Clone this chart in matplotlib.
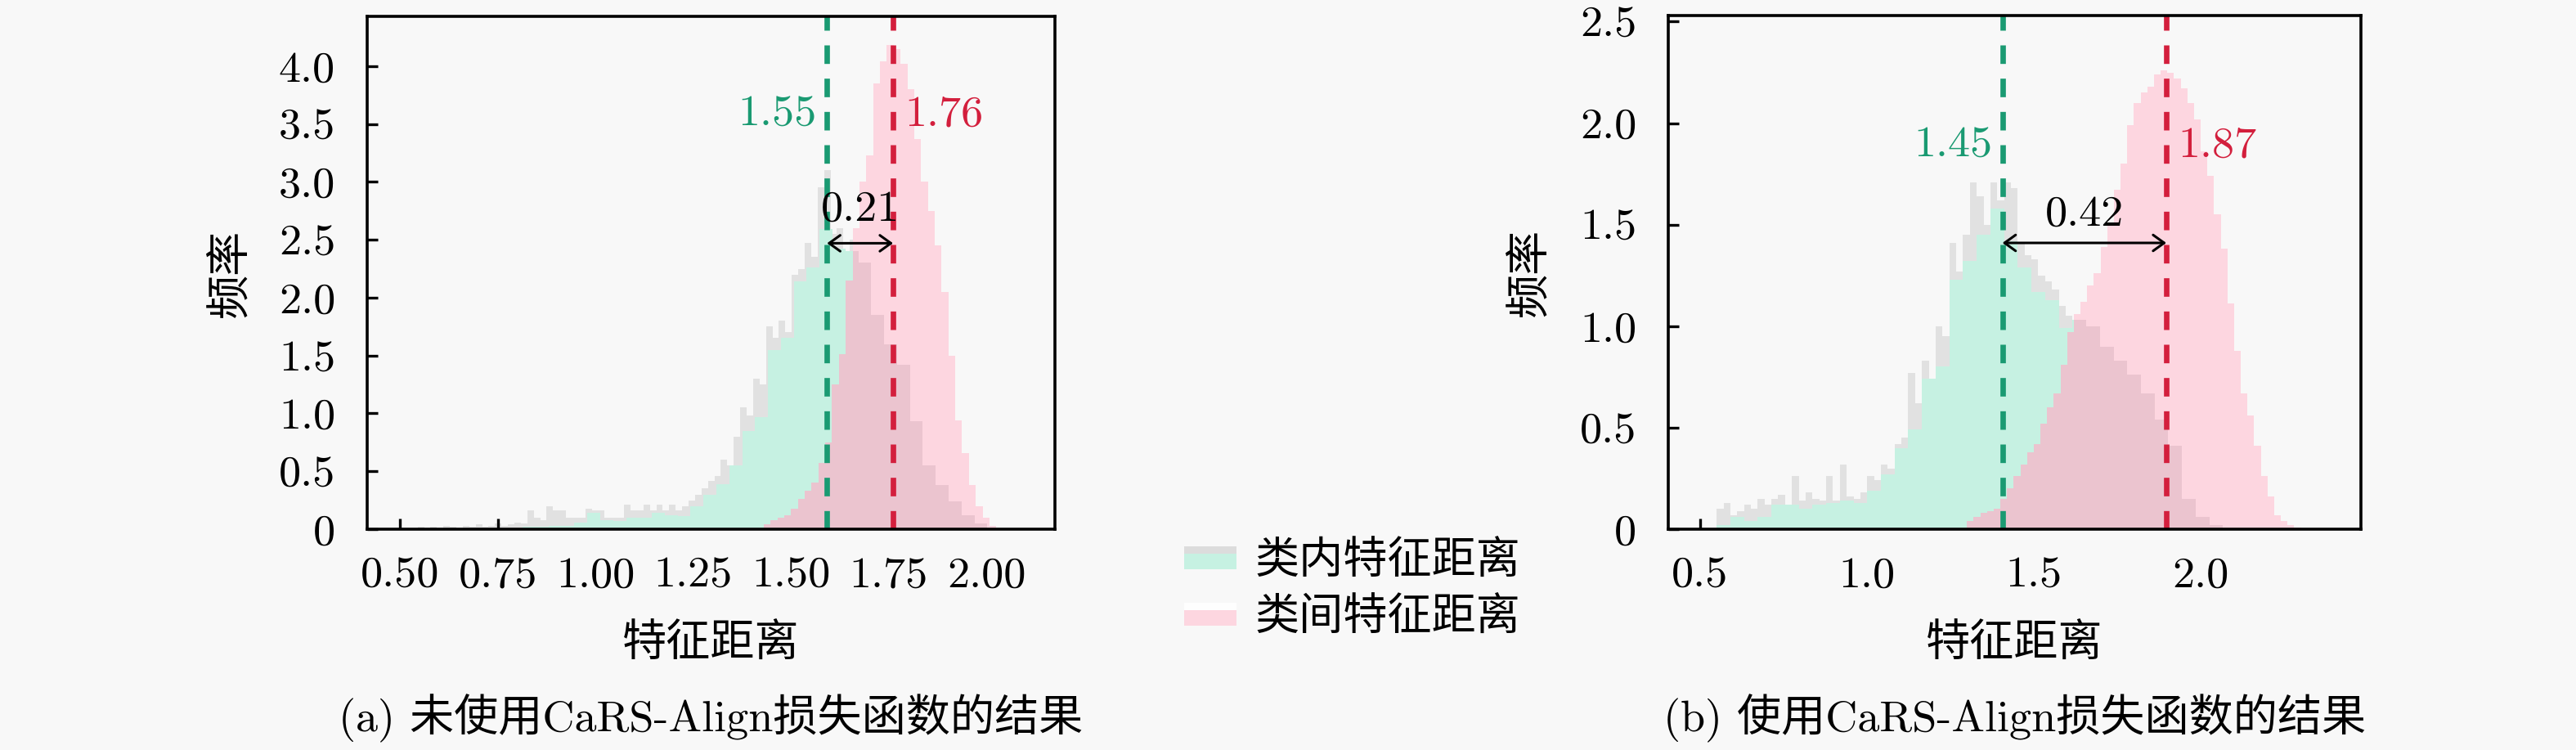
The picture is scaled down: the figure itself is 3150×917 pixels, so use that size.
import numpy as np
import matplotlib
matplotlib.use("Agg")
import matplotlib.pyplot as plt
from matplotlib.patches import Patch, Rectangle
from matplotlib.legend_handler import HandlerBase

plt.rcParams['font.family'] = ['cmr10', 'Noto Sans CJK SC', 'DejaVu Sans']
plt.rcParams['axes.formatter.use_mathtext'] = True
plt.rcParams['axes.unicode_minus'] = False

# ---------------- data ----------------
# (a) without CaRS-Align loss
a_intra_start, a_intra_width = 0.55, 0.033
a_intra = [0, 0, 0, 0, 0, 0, 0.01, 0.01, 0.02, 0.02,
           0.03, 0.03, 0.06, 0.14, 0.08, 0.07, 0.10, 0.10, 0.14, 0.12,
           0.11, 0.20, 0.30, 0.39, 0.55, 0.85, 0.97, 1.55, 1.65, 2.14,
           2.26, 2.59, 2.42, 2.40, 2.30, 1.85, 1.60, 1.42, 0.93, 0.55,
           0.38, 0.24, 0.12, 0.05]
a_intra_fine_start, a_intra_fine_width = 0.545, 0.0165
a_intra_fine = [0.02, 0.01, 0.02, 0.00, 0.03, 0.02, 0.01, 0.03, 0.02, 0.04,
                0.02, 0.03, 0.05, 0.03, 0.04, 0.06, 0.05, 0.16, 0.10, 0.08,
                0.20, 0.16, 0.16, 0.10, 0.10, 0.10, 0.18, 0.16, 0.16, 0.10,
                0.10, 0.10, 0.21, 0.16, 0.16, 0.21, 0.16, 0.21, 0.16, 0.21,
                0.16, 0.20, 0.25, 0.30, 0.35, 0.42, 0.46, 0.60, 0.55, 0.80,
                1.05, 0.98, 1.30, 1.25, 1.75, 1.65, 1.80, 1.70, 2.20, 2.25,
                2.47, 2.35, 2.95, 3.10, 2.55, 2.60, 2.40, 2.50, 2.45, 2.30]
a_inter_start, a_inter_width = 1.43, 0.0175
a_inter = [0.04, 0.08, 0.10, 0.12, 0.18, 0.26, 0.33, 0.40, 0.57, 0.75,
           1.25, 1.51, 2.15, 2.60, 3.00, 3.23, 3.85, 4.04, 4.18, 4.15,
           4.02, 3.80, 3.37, 3.00, 2.75, 2.45, 2.05, 1.50, 0.94, 0.66,
           0.38, 0.20, 0.10, 0.03]
a_lines = [1.592, 1.761]
a_line_labels = ['1.55', '1.76']
a_gap_label = '0.21'
a_xticks = [0.50, 0.75, 1.00, 1.25, 1.50, 1.75, 2.00]
a_xticklabels = ['0.50', '0.75', '1.00', '1.25', '1.50', '1.75', '2.00']
a_yticks = [0, 0.5, 1.0, 1.5, 2.0, 2.5, 3.0, 3.5, 4.0]
a_yticklabels = ['0', '0.5', '1.0', '1.5', '2.0', '2.5', '3.0', '3.5', '4.0']

# (b) with CaRS-Align loss
b_intra_start, b_intra_width = 0.55, 0.041
b_intra = [0.02, 0.06, 0.04, 0.06, 0.12, 0.12, 0.10, 0.12, 0.13, 0.14,
           0.13, 0.19, 0.27, 0.40, 0.49, 0.74, 0.80, 1.23, 1.32, 1.45,
           1.58, 1.42, 1.29, 1.17, 1.13, 0.99, 1.03, 1.00, 0.90, 0.83,
           0.76, 0.67, 0.54, 0.41, 0.15, 0.06, 0.02]
b_intra_fine_start, b_intra_fine_width = 0.55, 0.0205
b_intra_fine = [0.10, 0.13, 0.07, 0.09, 0.12, 0.10, 0.15, 0.12, 0.15, 0.17,
                0.12, 0.26, 0.14, 0.18, 0.15, 0.14, 0.26, 0.14, 0.32, 0.16,
                0.15, 0.18, 0.26, 0.24, 0.32, 0.30, 0.42, 0.45, 0.77, 0.62,
                0.83, 0.74, 1.00, 0.95, 1.41, 1.27, 1.45, 1.71, 1.64, 1.50,
                1.71, 1.62, 1.71, 1.68, 1.41, 1.35, 1.33, 1.25, 1.22, 1.18,
                1.10, 1.05, 1.03]
b_inter_start, b_inter_width = 1.30, 0.02
b_inter = [0.04, 0.06, 0.08, 0.09, 0.10, 0.15, 0.20, 0.26, 0.32, 0.38,
           0.42, 0.52, 0.60, 0.67, 0.81, 0.97, 1.06, 1.12, 1.20, 1.26,
           1.39, 1.50, 1.67, 1.80, 1.99, 2.10, 2.15, 2.18, 2.24, 2.26,
           2.25, 2.22, 2.17, 2.10, 2.02, 1.86, 1.74, 1.55, 1.38, 1.11,
           0.88, 0.67, 0.56, 0.41, 0.26, 0.16, 0.07, 0.04, 0.02, 0.01]
b_lines = [1.406, 1.897]
b_line_labels = ['1.45', '1.87']
b_gap_label = '0.42'
b_xticks = [0.5, 1.0, 1.5, 2.0]
b_xticklabels = ['0.5', '1.0', '1.5', '2.0']
b_yticks = [0, 0.5, 1.0, 1.5, 2.0, 2.5]
b_yticklabels = ['0', '0.5', '1.0', '1.5', '2.0', '2.5']

legend_labels = ['类内特征距离', '类间特征距离']
captions = ['(a) 未使用CaRS-Align损失函数的结果', '(b) 使用CaRS-Align损失函数的结果']
xlabel = '特征距离'
ylabel = '频率'

# ---------------- style ----------------
BG = '#f8f8f8'
C_GREEN = '#c6f1e2'
C_PINK = '#fdd6e0'
C_DUSTY = '#ebc4cf'
C_GRAY = '#e1e1e1'
C_GLINE = '#1a9a72'
C_RLINE = '#d31f3d'
FS = 19.5

W, H = 3150, 917
fig = plt.figure(figsize=(W / 200, H / 200), dpi=200, facecolor=BG)


def edges(start, width, n):
    return start + width * np.arange(n + 1)


def panel(rect, intra, intra_s, intra_w, fine, fine_s, fine_w, inter, inter_s, inter_w,
          lines, line_labels, gap_label, label_y, gap_text_y, arrow_y,
          xlim, ylim, xticks, xticklabels, yticks, yticklabels, caption):
    ax = fig.add_axes(rect)
    ax.set_facecolor(BG)
    ax.stairs(fine, edges(fine_s, fine_w, len(fine)), fill=True, color=C_GRAY, lw=0, zorder=1)
    ax.stairs(intra, edges(intra_s, intra_w, len(intra)), fill=True, color=C_GREEN, lw=0, zorder=2)
    pink = ax.stairs(inter, edges(inter_s, inter_w, len(inter)), fill=True, color=C_PINK, lw=0, zorder=3)
    dusty = ax.stairs(intra, edges(intra_s, intra_w, len(intra)), fill=True, color=C_DUSTY, lw=0, zorder=4)
    dusty.set_clip_path(pink)

    g, r = lines
    ax.axvline(g, color=C_GLINE, lw=2.4, ls=(0, (3.4, 2.7)), zorder=5)
    ax.axvline(r, color=C_RLINE, lw=2.4, ls=(0, (3.4, 2.7)), zorder=5)
    ax.annotate(line_labels[0], xy=(g, label_y), xytext=(-4.5, 0), textcoords='offset points',
                ha='right', va='center', color=C_GLINE, fontsize=FS, zorder=6)
    ax.annotate(line_labels[1], xy=(r, label_y), xytext=(5, 0), textcoords='offset points',
                ha='left', va='center', color=C_RLINE, fontsize=FS, zorder=6)
    ax.annotate('', xy=(r, arrow_y), xytext=(g, arrow_y),
                arrowprops=dict(arrowstyle='<->,head_length=0.25,head_width=0.18',
                                color='black', lw=1.1, shrinkA=0, shrinkB=0,
                                mutation_scale=FS), zorder=6)
    ax.text((g + r) / 2, gap_text_y, gap_label, ha='center', va='center', fontsize=FS, zorder=6)

    ax.set_xlim(*xlim)
    ax.set_ylim(*ylim)
    ax.set_xticks(xticks)
    ax.set_xticklabels(xticklabels)
    ax.set_yticks(yticks)
    ax.set_yticklabels(yticklabels)
    ax.tick_params(direction='in', length=4.7, width=1.2, labelsize=FS, top=False, right=False)
    ax.tick_params(axis='x', pad=12)
    ax.tick_params(axis='y', pad=14)
    for s in ax.spines.values():
        s.set_linewidth(1.3)
        s.set_color('black')
        s.set_zorder(7)
    ax.set_xlabel(xlabel, fontsize=FS)
    ax.set_ylabel(ylabel, fontsize=FS)
    ax.xaxis.set_label_coords(0.5, -0.185)
    ax.yaxis.set_label_coords(-0.17, 0.5)
    cx = rect[0] + rect[2] / 2
    fig.text(cx, 1 - 878 / H, caption, ha='center', va='center', fontsize=FS)
    return ax


ax1 = panel([449 / W, 1 - 647 / H, (1290 - 449) / W, (647 - 20) / H],
            a_intra, a_intra_start, a_intra_width,
            a_intra_fine, a_intra_fine_start, a_intra_fine_width,
            a_inter, a_inter_start, a_inter_width,
            a_lines, a_line_labels, a_gap_label, 3.58, 2.76, 2.47,
            (0.416, 2.175), (0, 4.43), a_xticks, a_xticklabels, a_yticks, a_yticklabels,
            captions[0])
ax2 = panel([2040 / W, 1 - 647 / H, (2887 - 2040) / W, (647 - 19) / H],
            b_intra, b_intra_start, b_intra_width,
            b_intra_fine, b_intra_fine_start, b_intra_fine_width,
            b_inter, b_inter_start, b_inter_width,
            b_lines, b_line_labels, b_gap_label, 1.89, 1.55, 1.41,
            (0.405, 2.48), (0, 2.53), b_xticks, b_xticklabels, b_yticks, b_yticklabels,
            captions[1])


class StripHandler(HandlerBase):
    def __init__(self, strip, main, frac=0.7):
        super().__init__()
        self.strip, self.main, self.frac = strip, main, frac

    def create_artists(self, legend, orig_handle, xdescent, ydescent, width, height, fontsize, trans):
        r1 = Rectangle((-xdescent, -ydescent), width, height, facecolor=self.strip,
                       edgecolor='none', transform=trans)
        r2 = Rectangle((-xdescent, -ydescent), width, height * self.frac, facecolor=self.main,
                       edgecolor='none', transform=trans)
        return [r1, r2]


h1 = Patch(facecolor=C_GREEN)
h2 = Patch(facecolor=C_PINK)
fig.legend([h1, h2], legend_labels, loc='center left',
           bbox_to_anchor=(1448 / W, 1 - 721 / H), frameon=False, fontsize=FS,
           handlelength=1.19, handleheight=0.43, handletextpad=0.4,
           labelspacing=0.35, borderpad=0, borderaxespad=0,
           handler_map={h1: StripHandler('#dcdcdc', C_GREEN), h2: StripHandler('#fefefe', C_PINK)})

fig.savefig('out.png', dpi=200, facecolor=BG)
